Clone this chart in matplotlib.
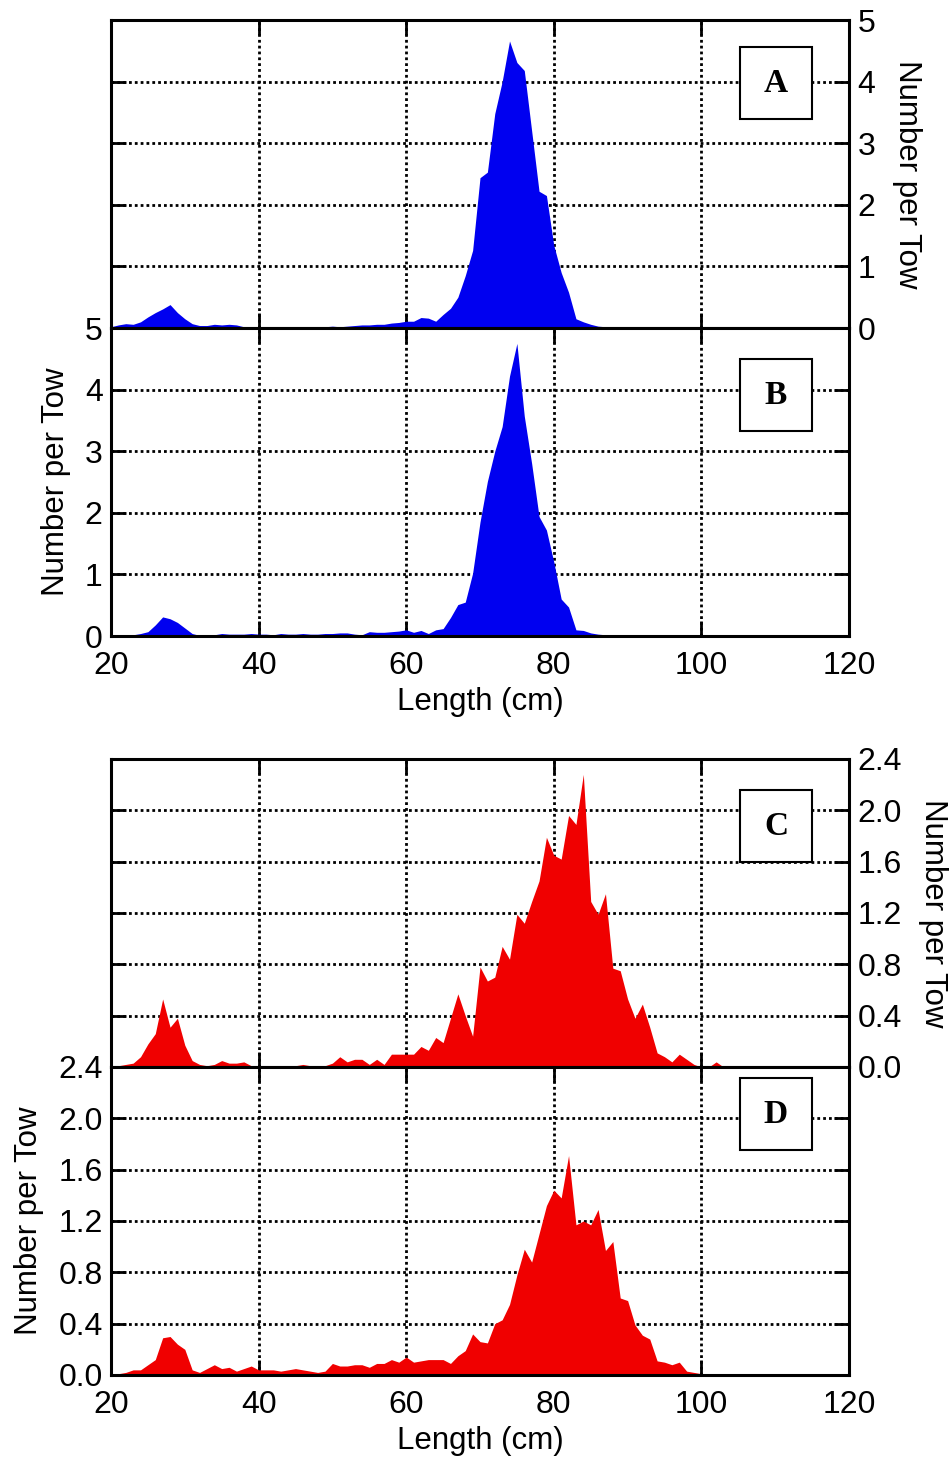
# module imports
import matplotlib
matplotlib.use("Agg")
import matplotlib.pyplot as plt
import matplotlib.patches as patches
import numpy as np

# fonts
plt.rcParams["font.family"] = ["Liberation Sans", "DejaVu Sans"]

# length bins (cm)
lengths = np.arange(20, 115)

# panel A, blue
panel_a = [
    0.02, 0.05, 0.07, 0.06, 0.10, 0.18, 0.25, 0.31, 0.38, 0.25,
    0.15, 0.07, 0.04, 0.04, 0.06, 0.05, 0.06, 0.05, 0.02, 0.02,
    0.01, 0.01, 0.01, 0.01, 0.01, 0.01, 0.02, 0.02, 0.02, 0.02,
    0.03, 0.02, 0.03, 0.04, 0.05, 0.05, 0.06, 0.06, 0.08, 0.09,
    0.11, 0.11, 0.17, 0.16, 0.11, 0.22, 0.32, 0.50, 0.85, 1.26,
    2.44, 2.53, 3.48, 4.00, 4.66, 4.31, 4.18, 3.20, 2.22, 2.15,
    1.34, 0.90, 0.58, 0.15, 0.10, 0.06, 0.03, 0.02, 0.01, 0.01,
    0.02, 0.01, 0.01, 0.01, 0.01, 0.01, 0.01, 0.01, 0.01, 0.01,
    0.01, 0.01, 0.01, 0.01, 0.01, 0.01, 0.01, 0.01, 0.01, 0.01,
    0.01, 0.01, 0.01, 0.01, 0.01,
]

# panel B, blue
panel_b = [
    0.01, 0.01, 0.01, 0.02, 0.04, 0.07, 0.18, 0.31, 0.28, 0.22,
    0.13, 0.04, 0.01, 0.02, 0.02, 0.04, 0.03, 0.03, 0.03, 0.04,
    0.03, 0.03, 0.02, 0.04, 0.03, 0.03, 0.04, 0.03, 0.03, 0.04,
    0.04, 0.05, 0.05, 0.03, 0.02, 0.07, 0.06, 0.06, 0.07, 0.08,
    0.10, 0.06, 0.09, 0.04, 0.10, 0.12, 0.30, 0.51, 0.55, 1.02,
    1.85, 2.51, 3.00, 3.40, 4.22, 4.75, 3.57, 2.80, 1.94, 1.72,
    1.20, 0.60, 0.47, 0.10, 0.09, 0.05, 0.03, 0.02, 0.02, 0.02,
    0.02, 0.02, 0.02, 0.02, 0.02, 0.02, 0.02, 0.02, 0.02, 0.02,
    0.02, 0.02, 0.02, 0.02, 0.02, 0.02, 0.02, 0.02, 0.02, 0.02,
    0.02, 0.02, 0.02, 0.02, 0.02,
]

# panel C, red
panel_c = [
    0.01, 0.01, 0.02, 0.03, 0.08, 0.18, 0.26, 0.53, 0.31, 0.38,
    0.17, 0.05, 0.02, 0.01, 0.02, 0.05, 0.03, 0.03, 0.04, 0.01,
    0.01, 0.01, 0.01, 0.00, 0.01, 0.01, 0.02, 0.01, 0.01, 0.01,
    0.03, 0.08, 0.04, 0.06, 0.06, 0.02, 0.06, 0.02, 0.10, 0.10,
    0.10, 0.10, 0.16, 0.13, 0.23, 0.19, 0.38, 0.57, 0.40, 0.24,
    0.78, 0.67, 0.70, 0.94, 0.84, 1.19, 1.12, 1.29, 1.45, 1.79,
    1.65, 1.62, 1.96, 1.89, 2.28, 1.29, 1.19, 1.35, 0.77, 0.75,
    0.53, 0.38, 0.49, 0.31, 0.11, 0.08, 0.04, 0.10, 0.06, 0.02,
    0.00, 0.00, 0.04, 0.00, 0.00, 0.00, 0.00, 0.00, 0.00, 0.00,
    0.00, 0.00, 0.00, 0.00, 0.00,
]

# panel D, red
panel_d = [
    0.01, 0.01, 0.02, 0.04, 0.04, 0.08, 0.12, 0.29, 0.30, 0.24,
    0.20, 0.04, 0.02, 0.05, 0.08, 0.05, 0.06, 0.03, 0.05, 0.07,
    0.04, 0.04, 0.04, 0.03, 0.04, 0.05, 0.04, 0.03, 0.02, 0.03,
    0.09, 0.07, 0.07, 0.08, 0.08, 0.06, 0.09, 0.09, 0.12, 0.10,
    0.14, 0.10, 0.11, 0.12, 0.12, 0.12, 0.09, 0.15, 0.19, 0.32,
    0.26, 0.25, 0.40, 0.43, 0.55, 0.78, 0.98, 0.88, 1.10, 1.32,
    1.44, 1.38, 1.71, 1.17, 1.20, 1.17, 1.29, 0.97, 1.04, 0.60,
    0.58, 0.39, 0.31, 0.28, 0.11, 0.10, 0.08, 0.10, 0.03, 0.02,
    0.01, 0.01, 0.01, 0.01, 0.01, 0.01, 0.01, 0.01, 0.01, 0.01,
    0.01, 0.01, 0.01, 0.01, 0.01,
]

# axis ticks
x_ticks = [20, 40, 60, 80, 100, 120]
blue_ticks = [0, 1, 2, 3, 4, 5]
red_ticks = [0.0, 0.4, 0.8, 1.2, 1.6, 2.0, 2.4]
red_labels = ["0.0", "0.4", "0.8", "1.2", "1.6", "2.0", "2.4"]

BLUE = "#0000F0"
RED = "#F00000"
TICK_FS = 23
LABEL_FS = 22.5


def setup_axis(ax, values, color, yticks, ylabels, letter, side, show_x, box_y):
    # histogram fill
    ax.fill_between(lengths, values, color=color, lw=0, zorder=1)
    ax.set_xlim(20, 120)
    ax.set_ylim(yticks[0], yticks[-1])
    ax.set_xticks(x_ticks)
    ax.set_yticks(yticks)

    # dotted grid under the fill
    ax.set_axisbelow(True)
    ax.grid(True, color="black", linestyle=(0, (1, 1.1)), lw=2.0)

    # inward ticks on every side
    ax.tick_params(direction="in", length=11, width=2, top=True, right=True,
                   labelsize=TICK_FS)
    ax.tick_params(axis="x", pad=11)
    ax.tick_params(axis="y", pad=6)
    for s in ax.spines.values():
        s.set_linewidth(2.2)

    # y tick labels on one side only
    if side == "right":
        ax.tick_params(labelleft=False, labelright=True)
        ax.yaxis.set_label_position("right")
        ax.set_ylabel("Number per Tow", fontsize=LABEL_FS, rotation=270,
                      va="bottom", labelpad=12)
    else:
        ax.tick_params(labelleft=True, labelright=False)
        ax.set_ylabel("Number per Tow", fontsize=LABEL_FS, labelpad=10)
    ax.set_yticklabels(ylabels)

    # x tick labels only on the lower panel of each pair
    if show_x:
        ax.set_xticklabels([str(t) for t in x_ticks])
        ax.set_xlabel("Length (cm)", fontsize=LABEL_FS, labelpad=4)
    else:
        ax.tick_params(labelbottom=False)

    # panel letter box
    bw, bh = 72 / 738, 72 / 308
    cx = 0.901
    ax.add_patch(patches.Rectangle((cx - bw / 2, box_y - bh / 2), bw, bh,
                                   transform=ax.transAxes, facecolor="white",
                                   edgecolor="black", lw=1.5, zorder=3))
    ax.text(cx, box_y, letter, transform=ax.transAxes, ha="center",
            va="center", fontsize=24, fontweight="bold",
            family=["Liberation Serif", "DejaVu Serif"], zorder=4)


# figure with four stacked panels
fig = plt.figure(figsize=(9.52, 14.58), dpi=100)
left, width, height = 111 / 952, 738 / 952, 308 / 1458
ax_a = fig.add_axes([left, 1 - 328 / 1458, width, height])
ax_b = fig.add_axes([left, 1 - 636 / 1458, width, height])
ax_c = fig.add_axes([left, 1 - 1067 / 1458, width, height])
ax_d = fig.add_axes([left, 1 - 1375 / 1458, width, height])

blue_labels = [str(t) for t in blue_ticks]
setup_axis(ax_a, panel_a, BLUE, blue_ticks, blue_labels, "A", "right", False, 0.795)
setup_axis(ax_b, panel_b, BLUE, blue_ticks, blue_labels, "B", "left", True, 0.782)
setup_axis(ax_c, panel_c, RED, red_ticks, red_labels, "C", "right", False, 0.782)
setup_axis(ax_d, panel_d, RED, red_ticks, red_labels, "D", "left", True, 0.847)

plt.savefig("out.png", dpi=100)
